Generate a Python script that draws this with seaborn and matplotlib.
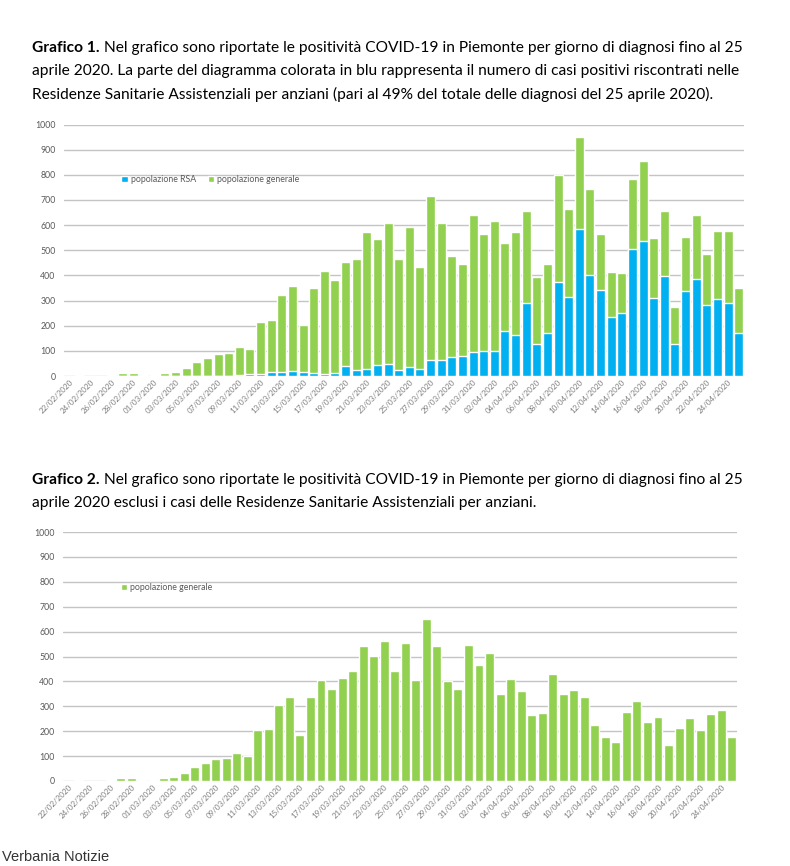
import matplotlib
matplotlib.use("Agg")
import matplotlib.pyplot as plt
import numpy as np
import pandas as pd
import seaborn as sns

# date di diagnosi: 22/02/2020 - 25/04/2020
date = pd.date_range("2020-02-22", "2020-04-25", freq="D").strftime("%d/%m/%Y").tolist()

# casi nelle RSA (parte blu del grafico 1)
rsa = [0, 0, 0, 0, 0, 0, 0, 0,
       0, 0, 0, 0, 0, 0, 0, 0, 4, 8,
       8, 14, 14, 19, 15, 12, 9, 12, 38, 24,
       27, 44, 46, 24, 37, 27, 63, 65, 77, 78, 97,
       99, 100, 179, 163, 292, 126, 171, 373, 316, 585,
       403, 340, 235, 251, 505, 535, 310, 399, 129, 338,
       385, 281, 305, 292, 171]

# popolazione generale (grafico 2, parte verde del grafico 1)
generale = [1, 3, 0, 0, 3, 12, 13, 5,
            4, 12, 17, 33, 57, 73, 89, 93, 112, 100,
            205, 209, 307, 339, 186, 336, 407, 369, 414, 443,
            544, 502, 562, 441, 554, 405, 652, 543, 402, 369, 545,
            464, 515, 351, 411, 363, 267, 274, 428, 348, 366,
            339, 223, 177, 157, 277, 320, 238, 259, 146, 214,
            254, 206, 270, 284, 178]

BLU = "#00B0F0"
VERDE = "#92D050"
GRIGIO = "#595959"

sns.set_style("white")
plt.rcParams["font.family"] = ["Lato", "DejaVu Sans"]

df = pd.DataFrame({"data": date, "rsa": rsa, "generale": generale})
df["totale"] = df["rsa"] + df["generale"]

fig = plt.figure(figsize=(7.9, 8.66), dpi=100)


def titolo(y, righe, grassetto):
    """Scrive il titolo: prima parte in grassetto, il resto normale."""
    r = fig.canvas.get_renderer()
    x0 = 32 / 790
    for i, riga in enumerate(righe):
        yy = 1 - (y + i * 23) / 866
        if i == 0:
            t = fig.text(x0, yy, grassetto, fontsize=11.2, fontweight="bold",
                         va="center", ha="left", color="black")
            bb = t.get_window_extent(renderer=r)
            fig.text(bb.x1 / 790 + 4 / 790, yy, riga, fontsize=11.2,
                     va="center", ha="left", color="black")
        else:
            fig.text(x0, yy, riga, fontsize=11.2, va="center", ha="left",
                     color="black")


def stile_asse(ax):
    ax.set_ylim(0, 1000)
    ax.set_xlim(-0.5, len(date) - 0.5)
    ax.set_yticks(range(0, 1001, 100))
    ax.yaxis.grid(True, color="#c4c4c4", linewidth=1.0)
    ax.set_axisbelow(True)
    sns.despine(ax=ax, left=True, bottom=True, top=True, right=True)
    ax.tick_params(axis="y", length=0, labelsize=6.3, labelcolor=GRIGIO, pad=6)
    ax.tick_params(axis="x", length=0, labelsize=5.8, labelcolor="#7f7f7f", pad=2)
    pos = list(range(0, len(date), 2))
    ax.set_xticks(pos)
    ax.set_xticklabels([date[i] for i in pos], rotation=45, ha="right",
                       va="top", rotation_mode="anchor")
    ax.set_xlabel("")
    ax.set_ylabel("")


titolo(48, ["Nel grafico sono riportate le positività COVID-19 in Piemonte per giorno di diagnosi fino al 25",
            "aprile 2020. La parte del diagramma colorata in blu rappresenta il numero di casi positivi riscontrati nelle",
            "Residenze Sanitarie Assistenziali per anziani (pari al 49% del totale delle diagnosi del 25 aprile 2020)."],
       "Grafico 1.")

# Grafico 1: barre impilate
ax1 = fig.add_axes([64 / 790, 1 - 376 / 866, 680 / 790, 251.5 / 866])
sns.barplot(data=df, x="data", y="totale", color=VERDE, saturation=1,
            width=0.85, ax=ax1, label="popolazione generale")
sns.barplot(data=df, x="data", y="rsa", color=BLU, saturation=1,
            width=0.85, ax=ax1, label="popolazione RSA")
stile_asse(ax1)
h, l = ax1.get_legend_handles_labels()
ax1.legend(h[::-1], l[::-1], ncol=2, frameon=False, loc="center left",
           bbox_to_anchor=(0.078, 0.782), fontsize=6.3, handlelength=0.7,
           handleheight=0.7, handletextpad=0.35, columnspacing=1.4,
           labelcolor=GRIGIO, borderpad=0)

titolo(480, ["Nel grafico sono riportate le positività COVID-19 in Piemonte per giorno di diagnosi fino al 25",
             "aprile 2020 esclusi i casi delle Residenze Sanitarie Assistenziali per anziani."],
       "Grafico 2.")

# Grafico 2: solo popolazione generale
ax2 = fig.add_axes([63 / 790, 1 - 781 / 866, 674 / 790, 249 / 866])
sns.barplot(data=df, x="data", y="generale", color=VERDE, saturation=1,
            width=0.85, ax=ax2, label="popolazione generale")
stile_asse(ax2)
ax2.legend(ncol=1, frameon=False, loc="center left",
           bbox_to_anchor=(0.08, 0.777), fontsize=6.3, handlelength=0.7,
           handleheight=0.7, handletextpad=0.35, labelcolor=GRIGIO, borderpad=0)

fig.text(2 / 790, 1 - 857 / 866, "Verbania Notizie", fontsize=10.5,
         family=["Liberation Sans", "DejaVu Sans"], color="#333333",
         va="center", ha="left")

fig.savefig("out.png", dpi=100)
